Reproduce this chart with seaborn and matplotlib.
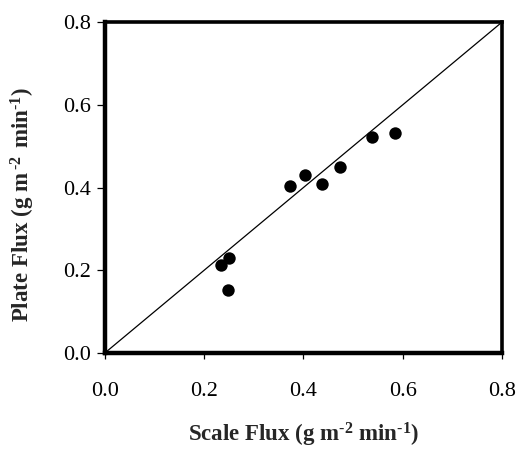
import matplotlib
matplotlib.use("Agg")
import matplotlib.pyplot as plt
import seaborn as sns
import pandas as pd

# Flux measured by scale vs. flux measured by plate (g m^-2 min^-1)
scale_flux = [0.234, 0.251, 0.249, 0.373, 0.403, 0.437, 0.474, 0.538, 0.584]
plate_flux = [0.214, 0.230, 0.152, 0.404, 0.430, 0.408, 0.450, 0.523, 0.533]
tick_values = [0.0, 0.2, 0.4, 0.6, 0.8]
tick_labels = ["0.0", "0.2", "0.4", "0.6", "0.8"]

sns.set_theme(style="ticks")
plt.rcParams["font.family"] = ["Liberation Serif", "DejaVu Serif"]
plt.rcParams["mathtext.fontset"] = "custom"
plt.rcParams["mathtext.rm"] = "Liberation Serif:bold"
plt.rcParams["mathtext.bf"] = "Liberation Serif:bold"
plt.rcParams["mathtext.default"] = "regular"
plt.rcParams["axes.unicode_minus"] = False

df = pd.DataFrame({"scale": scale_flux, "plate": plate_flux})

fig = plt.figure(figsize=(5.19, 4.5), dpi=100)
ax = fig.add_axes([0.202, 0.2156, 0.765, 0.735])

# 1:1 reference line
ax.plot([tick_values[0], tick_values[-1]], [tick_values[0], tick_values[-1]],
        color="black", linewidth=0.9, zorder=1)

sns.scatterplot(data=df, x="scale", y="plate", ax=ax, color="black",
                s=80, edgecolor="black", linewidth=0, zorder=3, legend=False)

ax.set_xlim(tick_values[0], tick_values[-1])
ax.set_ylim(tick_values[0], tick_values[-1])
ax.set_xticks(tick_values)
ax.set_yticks(tick_values)
ax.set_xticklabels(tick_labels)
ax.set_yticklabels(tick_labels)
ax.tick_params(axis="both", direction="out", width=0.9,
               labelsize=16, colors="black")
ax.tick_params(axis="y", length=6, pad=4)
ax.tick_params(axis="x", length=4, pad=17)

for side in ["left", "bottom"]:
    ax.spines[side].set_linewidth(3.2)
for side in ["top", "right"]:
    ax.spines[side].set_visible(True)
    ax.spines[side].set_linewidth(2.6)
for sp in ax.spines.values():
    sp.set_color("black")

ax.set_xlabel("Scale Flux (g m$^{\\text{-2}}$ min$^{\\text{-1}}$)", fontsize=16.5,
              fontweight="bold", labelpad=14)
ax.set_ylabel("Plate Flux (g m$^{\\,\\text{-2}\\,}$ min$^{\\text{-1}}$)",
              fontsize=16.5, fontweight="bold")
ax.yaxis.set_label_coords(-0.17, 0.45)

fig.savefig("out.png", dpi=100, facecolor="white")
